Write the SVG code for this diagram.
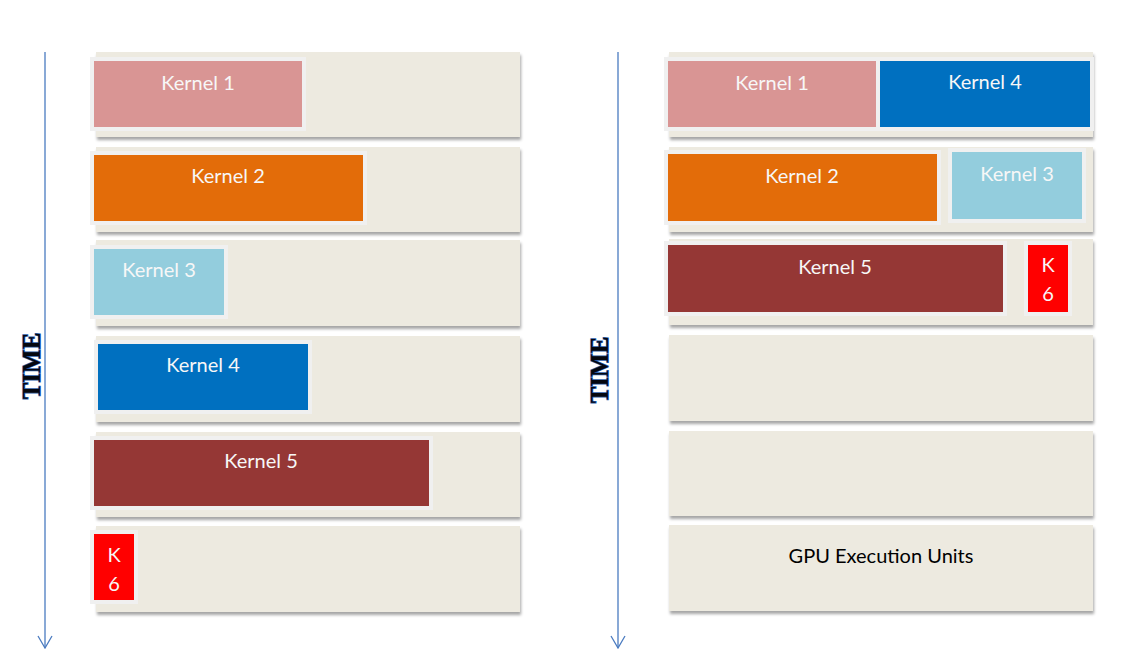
<svg xmlns="http://www.w3.org/2000/svg" width="1137" height="669" viewBox="0 0 1137 669">
  <defs>
    <filter id="shadow" x="-5%" y="-10%" width="110%" height="130%">
      <feDropShadow dx="1" dy="3" stdDeviation="1.6" flood-color="#000" flood-opacity="0.35"/>
    </filter>
    <marker id="vhead" viewBox="0 0 14 16" refX="13" refY="8" markerWidth="14" markerHeight="16" markerUnits="userSpaceOnUse" orient="auto">
      <path d="M1,1 L13,8 L1,15" fill="none" stroke="#4a7bc0" stroke-width="1.3"/>
    </marker>
    <style>
      .row { fill: #edeae0; filter: url(#shadow); }
      .k { stroke: #f0f0f0; stroke-width: 4; }
      .lbl { font-family: Lato, "Open Sans", "Liberation Sans", sans-serif; font-size: 20px; fill: #f7f7f7; text-anchor: middle; }
      .dark { fill: #000; }
      .time { font-family: "Liberation Serif", "DejaVu Serif", serif; font-weight: bold; font-size: 25px; fill: #05070f; stroke: #2a5aa8; stroke-width: 1.4; paint-order: stroke; text-anchor: middle; }
      .axis { stroke: #4a7bc0; stroke-width: 1.3; fill: none; }
      .k1 { fill: #d99594; } .k2 { fill: #e36c09; } .k3 { fill: #93cddd; }
      .k4 { fill: #0070c0; } .k5 { fill: #953735; } .k6 { fill: #ff0000; }
    </style>
  </defs>

  <g id="connectors">
    <line class="axis" x1="45" y1="52" x2="45" y2="648" marker-end="url(#vhead)"/>
    <line class="axis" x1="618" y1="52" x2="618" y2="648" marker-end="url(#vhead)"/>
  </g>

  <g id="time-left"><text class="time" transform="translate(40,366) rotate(-90)">TIME</text></g>
  <g id="time-right"><text class="time" transform="translate(608,370) rotate(-90)">TIME</text></g>

  <!-- Left: sequential -->
  <g id="left-rows">
    <rect class="row" x="96" y="52" width="424" height="85"/>
    <rect class="row" x="96" y="147" width="424" height="85"/>
    <rect class="row" x="96" y="240" width="424" height="86"/>
    <rect class="row" x="96" y="336" width="424" height="86"/>
    <rect class="row" x="96" y="432" width="424" height="85"/>
    <rect class="row" x="96" y="526" width="424" height="86"/>
  </g>
  <g id="left-kernel1">
    <rect class="k k1" x="92" y="59" width="212" height="70"/>
    <text class="lbl" x="198" y="90">Kernel 1</text>
  </g>
  <g id="left-kernel2">
    <rect class="k k2" x="92" y="153" width="273" height="70"/>
    <text class="lbl" x="228" y="183">Kernel 2</text>
  </g>
  <g id="left-kernel3">
    <rect class="k k3" x="92" y="247" width="134" height="70"/>
    <text class="lbl" x="159" y="277">Kernel 3</text>
  </g>
  <g id="left-kernel4">
    <rect class="k k4" x="96" y="342" width="214" height="70"/>
    <text class="lbl" x="203" y="372">Kernel 4</text>
  </g>
  <g id="left-kernel5">
    <rect class="k k5" x="92" y="438" width="339" height="70"/>
    <text class="lbl" x="261" y="468">Kernel 5</text>
  </g>
  <g id="left-k6">
    <rect class="k k6" x="92" y="532" width="44" height="70"/>
    <text class="lbl" x="114" y="562">K</text>
    <text class="lbl" x="114" y="591">6</text>
  </g>

  <!-- Right: concurrent -->
  <g id="right-rows">
    <rect class="row" x="669" y="52" width="424" height="85"/>
    <rect class="row" x="669" y="147" width="424" height="85"/>
    <rect class="row" x="669" y="239" width="424" height="86"/>
    <rect class="row" x="669" y="335" width="424" height="86"/>
    <rect class="row" x="669" y="431" width="424" height="85"/>
  </g>
  <g id="gpu-units">
    <rect class="row" x="669" y="525" width="424" height="86"/>
    <text class="lbl dark" x="881" y="563">GPU Execution Units</text>
  </g>
  <g id="right-kernel1">
    <rect class="k k1" x="666" y="59" width="212" height="70"/>
    <text class="lbl" x="772" y="90">Kernel 1</text>
  </g>
  <g id="right-kernel4">
    <rect class="k k4" x="878" y="59" width="214" height="70"/>
    <text class="lbl" x="985" y="89">Kernel 4</text>
  </g>
  <g id="right-kernel2">
    <rect class="k k2" x="666" y="152" width="273" height="71"/>
    <text class="lbl" x="802" y="183">Kernel 2</text>
  </g>
  <g id="right-kernel3">
    <rect class="k k3" x="950" y="150" width="134" height="71"/>
    <text class="lbl" x="1017" y="181">Kernel 3</text>
  </g>
  <g id="right-kernel5">
    <rect class="k k5" x="666" y="243" width="339" height="71"/>
    <text class="lbl" x="835" y="274">Kernel 5</text>
  </g>
  <g id="right-k6">
    <rect class="k k6" x="1026" y="243" width="44" height="71"/>
    <text class="lbl" x="1048" y="272">K</text>
    <text class="lbl" x="1048" y="301">6</text>
  </g>
</svg>
